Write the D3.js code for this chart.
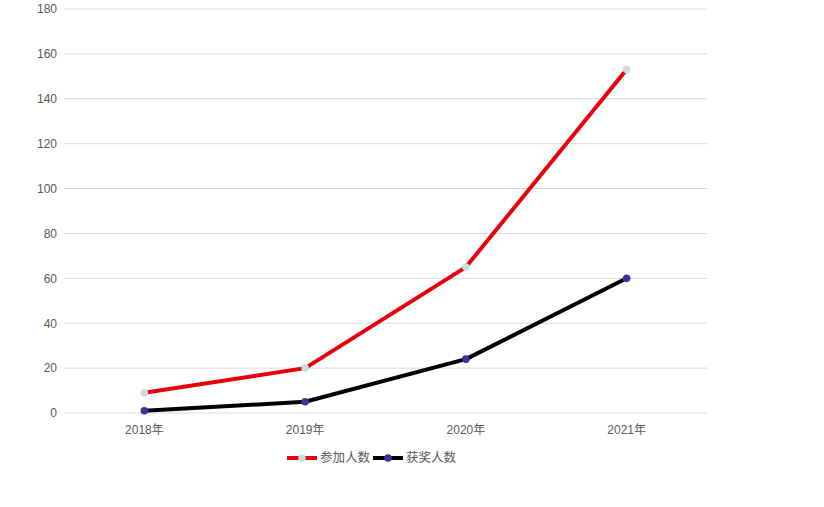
<!DOCTYPE html>
<html><head><meta charset="utf-8">
<script src="https://cdn.jsdelivr.net/npm/d3@7"></script>
<style>
body{margin:0;background:#fff;}
text{font-family:"Liberation Sans","Noto Sans CJK SC",sans-serif;}
</style></head>
<body><svg id="c" width="824" height="507"></svg>
<script>
const categories = ["2018年","2019年","2020年","2021年"];
const participants = [9, 20, 65, 153];
const winners = [1, 5, 24, 60];
const yTicks = [0,20,40,60,80,100,120,140,160,180];
const seriesNames = ["参加人数","获奖人数"];

const svg = d3.select("#c");
const x = d3.scaleBand().domain(categories).range([64,707]);
const y = d3.scaleLinear().domain([0,180]).range([413,9]);

// gridlines
svg.append("g").selectAll("line").data(yTicks).join("line")
  .attr("x1",64).attr("x2",707)
  .attr("y1",d=>y(d)).attr("y2",d=>y(d))
  .attr("stroke","#d9d9d9").attr("stroke-width",1);

// y axis
const ya = svg.append("g").attr("transform","translate(57,0)")
  .call(d3.axisLeft(y).tickValues(yTicks).tickSize(0).tickPadding(0));
ya.select(".domain").remove();
ya.selectAll("text").attr("fill","#595959").style("font-size","12px");

// x axis
const xa = svg.append("g").attr("transform","translate(0,421)")
  .call(d3.axisBottom(x).tickSize(0).tickPadding(4));
xa.select(".domain").remove();
xa.selectAll("text").attr("fill","#595959").style("font-size","12px");

const cx = c => x(c) + x.bandwidth()/2;
const series = [
  {name:seriesNames[0], values:participants, line:"#e8000b", marker:"#c8dfe1"},
  {name:seriesNames[1], values:winners, line:"#000000", marker:"#36369a"}
];
const lineGen = d3.line().x((d,i)=>cx(categories[i])).y(d=>y(d));
series.forEach(s=>{
  svg.append("path").datum(s.values).attr("d",lineGen)
    .attr("fill","none").attr("stroke",s.line).attr("stroke-width",4)
    .attr("stroke-linejoin","round");
  svg.append("g").selectAll("circle").data(s.values).join("circle")
    .attr("cx",(d,i)=>cx(categories[i])).attr("cy",d=>y(d)).attr("r",3.8)
    .attr("fill",s.marker);
});

// legend
const lg = svg.append("g").attr("transform","translate(287,458)");
let off = 0;
series.forEach((s,i)=>{
  const g = lg.append("g").attr("transform",`translate(${off},0)`);
  g.append("line").attr("x1",0).attr("x2",30).attr("y1",0).attr("y2",0)
    .attr("stroke",s.line).attr("stroke-width",4);
  g.append("circle").attr("cx",15).attr("cy",0).attr("r",3.8).attr("fill",s.marker);
  g.append("text").attr("x",33).attr("y",0).attr("dy","0.35em")
    .attr("fill","#595959").style("font-size","12.5px").text(s.name);
  off += 86;
});
</script></body></html>
